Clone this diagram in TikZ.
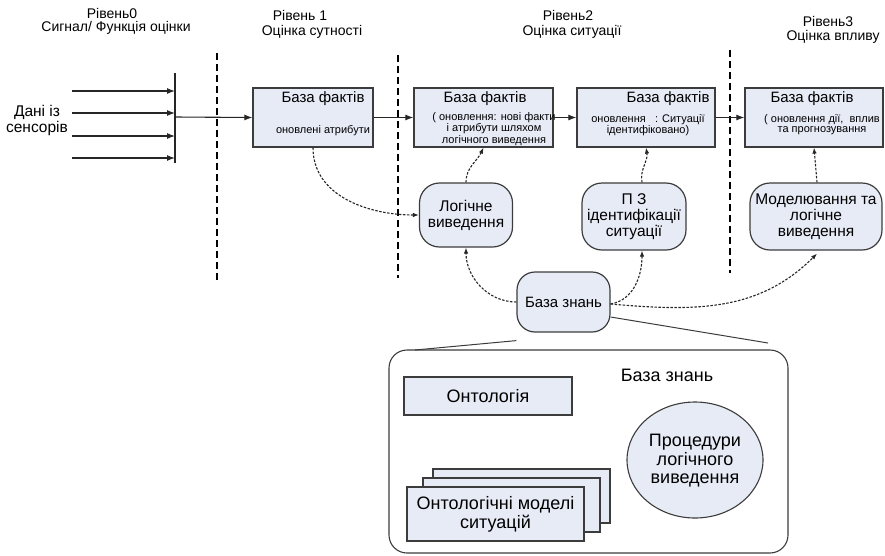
\documentclass[tikz,border=0pt]{standalone}
\usepackage{fontspec}
\setmainfont{Liberation Sans}
\usetikzlibrary{arrows.meta,shapes.geometric}
\definecolor{boxfill}{RGB}{231,235,246}
\definecolor{edge}{RGB}{60,60,60}
\begin{document}
\begin{tikzpicture}[x=1pt,y=-1pt,
  fbox/.style={draw=edge, fill=boxfill, line width=1.2pt, inner sep=0pt, minimum height=59pt},
  rnode/.style={draw=edge, fill=boxfill, line width=1.2pt, rounded corners=20pt, inner sep=0pt, align=center, font=\fontsize{15.5}{16}\selectfont},
  txt/.style={inner sep=0pt, align=center},
  hdr/.style={inner sep=0pt, align=center, font=\fontsize{14}{14}\selectfont},
  ttl/.style={inner sep=0pt, font=\fontsize{15}{15}\selectfont},
  small/.style={inner sep=0pt, align=center, font=\fontsize{11}{10}\selectfont},
  sepline/.style={line width=2.4pt, dash pattern=on 7pt off 4pt},
  darr/.style={-{Latex[length=6pt,width=4.5pt]}, draw=black!85, dash pattern=on 2.5pt off 1.5pt, line width=1.1pt},
  sarr/.style={-{Latex[length=8pt,width=6pt]}, draw=black!85, line width=1.1pt},
  thin/.style={draw=edge, line width=1pt}
]
\useasboundingbox (0,0) rectangle (885,555);

% headers
\node[hdr] (h0a) at (112,13) {Рівень0};
\node[hdr] (h0b) at (116,28) {Сигнал/ Функція оцінки};
\node[hdr] (h1a) at (300,15) {Рівень 1};
\node[hdr] (h1b) at (312,32) {Оцінка сутності};
\node[hdr] (h2a) at (568,15) {Рівень2};
\node[hdr] (h2b) at (572,32) {Оцінка ситуації};
\node[hdr] (h3a) at (828,21) {Рівень3};
\node[hdr] (h3b) at (833,37) {Оцінка впливу};

% separators
\coordinate (s1t) at (217,53); \coordinate (s1b) at (217,280);
\coordinate (s2t) at (398,55); \coordinate (s2b) at (398,278);
\coordinate (s3t) at (730,50); \coordinate (s3b) at (730,273);
\draw[sepline] (s1t) -- (s1b);
\draw[sepline] (s2t) -- (s2b);
\draw[sepline] (s3t) -- (s3b);

% sensors
\node[hdr, font=\fontsize{15.5}{16}\selectfont] (sens) at (37,120) {Дані із\\сенсорів};
\coordinate (bt) at (175,73); \coordinate (bb) at (175,163);
\draw[line width=2pt, draw=black!85] (bt) -- (bb);
\foreach \y/\n in {91/a,113/b,136/c,158/d}{
  \coordinate (in\n) at (72,\y);
  \coordinate (on\n) at (175,\y);
  \draw[sarr] (in\n) -- (on\n);
}
\coordinate (bout) at (175,117);

% fact boxes
\node[fbox, minimum width=120pt] (b1) at (313,117.5) {};
\node[fbox, minimum width=139pt] (b2) at (483.5,117.5) {};
\node[fbox, minimum width=138pt] (b3) at (646,117.5) {};
\node[fbox, minimum width=138pt] (b4) at (814,117.5) {};

\node[ttl] (b1t) at (323,99) {База фактів};
\node[small] (b1s) at (323,131) {оновлені атрибути};
\node[ttl] (b2t) at (485,99) {База фактів};
\node[small] (b2s) at (494,129) {( оновлення: нові факти\\і атрибути шляхом\\логічного виведення};
\node[ttl] (b3t) at (668,99) {База фактів};
\node[small] (b3s) at (648,125) {оновлення \ \ : Ситуації\\ідентифіковано)};
\node[ttl] (b4t) at (812,99) {База фактів};
\node[small] (b4s) at (822,125) {( оновлення дії, \ вплив\\та прогнозування};

\draw[sarr] (bout) -- (b1.west);
\draw[sarr] (b1.east) -- (b2.west);
\draw[sarr] (b2.east) -- (b3.west);
\draw[sarr] (b3.east) -- (b4.west);

% rounded nodes
\node[rnode, minimum width=93pt, minimum height=64pt] (lg) at (466,215) {Логічне\\виведення};
\node[rnode, minimum width=104pt, minimum height=67pt] (pz) at (634,216.5) {П З\\ідентифікації\\ситуації};
\node[rnode, minimum width=132pt, minimum height=67pt] (md) at (816,216.5) {Моделювання та\\логічне\\виведення};
\node[rnode, minimum width=93pt, minimum height=60pt, rounded corners=18pt, font=\fontsize{15}{16}\selectfont] (kb) at (563.5,302) {База знань};

% dashed connectors
\draw[darr] (b1.south) to[out=-90,in=180] (lg.west);
\draw[darr] (lg.north) to[out=90,in=-115] (b2.south);
\draw[darr] ([xshift=8pt]pz.north) to[out=100,in=-80] (b3.south);
\draw[darr] ([xshift=1pt]md.north) to[out=95,in=-85] (b4.south);
\draw[darr] (kb.west) to[out=180,in=-90] (lg.south);
\draw[darr] ([yshift=-2pt]kb.east) to[out=10,in=-90] ([xshift=8pt]pz.south);
\draw[darr] ([yshift=-2pt]kb.east) to[out=-5,in=-135] ([xshift=1pt,yshift=-3pt]md.south);

% knowledge base detail
\node[draw=edge, line width=1.1pt, rounded corners=18pt, minimum width=399pt, minimum height=203pt, inner sep=0pt] (big) at (588.5,451.5) {};
\coordinate (zl) at (415,350);
\coordinate (zr) at (768,343);
\draw[thin] ([yshift=-8pt]kb.south west) -- (zl);
\draw[thin] ([xshift=0pt,yshift=-15pt]kb.east) -- (zr);

\node[txt, font=\fontsize{18}{18}\selectfont] (kbt) at (667,375) {База знань};
\node[fbox, minimum width=168pt, minimum height=38pt, font=\fontsize{18}{18}\selectfont] (ont) at (488,396) {Онтологія};
\node[draw=edge, fill=boxfill, line width=1.1pt, ellipse, minimum width=136pt, minimum height=116pt, inner sep=0pt] (proc) at (695,460) {};
\node[txt, font=\fontsize{18}{18.5}\selectfont] (proct) at (695,461) {Процедури\\логічного\\виведення};
\node[fbox, minimum width=177pt, minimum height=54pt] (m3) at (521.5,496) {};
\node[fbox, minimum width=177pt, minimum height=54pt] (m2) at (511.5,505) {};
\node[fbox, minimum width=177pt, minimum height=54pt, align=center, font=\fontsize{18}{19}\selectfont] (m1) at (495.5,514) {Онтологічні моделі\\ситуацій};
\end{tikzpicture}
\end{document}
